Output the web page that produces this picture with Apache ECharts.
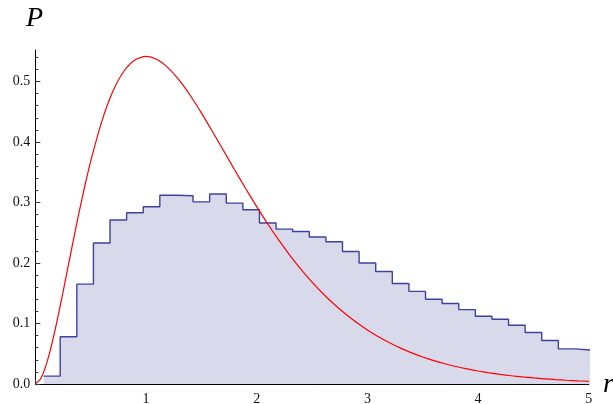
<!DOCTYPE html>
<html>
<head>
<meta charset="utf-8">
<title>Radial probability P(r)</title>
<script src="https://cdn.jsdelivr.net/npm/echarts@6/dist/echarts.min.js"></script>
<style>
  html, body { margin: 0; padding: 0; background: #ffffff; }
  #chart { width: 613px; height: 404px; }
</style>
</head>
<body>
<div id="chart"></div>
<script>
// Histogram: first bin edge, bin width and bin heights
const binStart = 0.075;
const binWidth = 0.15;
const binHeights = [
  0.013, 0.078, 0.165, 0.233, 0.271, 0.283, 0.293, 0.312, 0.311, 0.301,
  0.314, 0.299, 0.288, 0.266, 0.256, 0.252, 0.243, 0.235, 0.219, 0.200,
  0.186, 0.166, 0.153, 0.140, 0.133, 0.123, 0.112, 0.107, 0.097, 0.085,
  0.072, 0.058, 0.056
];

// Smooth curve P(r); denser samples near the origin where it bends fastest
const curveR = [
  0.0, 0.05, 0.1, 0.15, 0.2, 0.25, 0.3, 0.35, 0.4, 0.45, 0.5, 0.6, 0.7, 0.8, 0.9,
  1.0, 1.1, 1.2, 1.3, 1.4, 1.5, 1.6, 1.7, 1.8, 1.9,
  2.0, 2.1, 2.2, 2.3, 2.4, 2.5, 2.6, 2.7, 2.8, 2.9,
  3.0, 3.1, 3.2, 3.3, 3.4, 3.5, 3.6, 3.7, 3.8, 3.9,
  4.0, 4.1, 4.2, 4.3, 4.4, 4.5, 4.6, 4.7, 4.8, 4.9, 5.0
];
const curveP = [
  0.0000, 0.0091, 0.0328, 0.0667, 0.1073, 0.1516, 0.1976, 0.2433, 0.2876, 0.3293,
  0.3679, 0.4337, 0.4833, 0.5169, 0.5356,
  0.5413, 0.5363, 0.5225, 0.5021, 0.4768, 0.4481, 0.4174, 0.3858, 0.3541, 0.3230,
  0.2931, 0.2645, 0.2377, 0.2127, 0.1896, 0.1685, 0.1492, 0.1317, 0.1160, 0.1019,
  0.0892, 0.0780, 0.0681, 0.0593, 0.0515, 0.0447, 0.0387, 0.0335, 0.0289, 0.0249,
  0.0215, 0.0185, 0.0159, 0.0136, 0.0117, 0.0100, 0.0086, 0.0073, 0.0062, 0.0053, 0.0045
];

// Axis ranges and tick spacing
const xMax = 5;
const yMax = 0.552;
const yMinorTop = 0.54;
const yMajorTop = 0.5;

const serif = '"Liberation Serif", "DejaVu Serif", serif';

// Step points: left edge of every bin, plus the right edge of the last one
const histPoints = binHeights.map((h, i) => [binStart + i * binWidth, h]);
histPoints.push([binStart + binHeights.length * binWidth, binHeights[binHeights.length - 1]]);

const curvePoints = curveR.map((r, i) => [r, curveP[i]]);

// Plot box geometry (pixels)
const plotLeft = 35.3;
const plotRight = 24.2;
const plotBottom = 20;
const plotTop = 50;
const pxPerUnit = (404 - plotBottom - plotTop) / yMax;
const topFor = v => 404 - plotBottom - v * pxPerUnit;

const chart = echarts.init(document.getElementById('chart'), null, { renderer: 'canvas' });

const hiddenX = (gi) => ({
  type: 'value', gridIndex: gi, min: 0, max: xMax, show: false
});

const gridBox = (top) => ({
  left: plotLeft, right: plotRight, top: top, bottom: plotBottom,
  containLabel: false, outerBoundsMode: 'none'
});

chart.setOption({
  animation: false,
  backgroundColor: '#ffffff',
  grid: [
    gridBox(plotTop),
    gridBox(topFor(yMinorTop)),
    gridBox(topFor(yMajorTop))
  ],
  xAxis: [
    {
      type: 'value', gridIndex: 0, min: 0, max: xMax, interval: 1,
      axisLine: { show: true, lineStyle: { color: '#000000', width: 1 } },
      axisTick: { show: true, inside: true, length: 5, lineStyle: { color: '#333333' } },
      minorTick: { show: true, splitNumber: 5, length: 3, lineStyle: { color: '#333333' } },
      splitLine: { show: false },
      axisLabel: {
        margin: 8, fontFamily: serif, fontSize: 14, color: '#111111',
        formatter: v => (v === 0 ? '' : String(v))
      }
    },
    hiddenX(1),
    hiddenX(2)
  ],
  yAxis: [
    {
      type: 'value', gridIndex: 0, min: 0, max: yMax, interval: 0.1,
      axisLine: { show: true, lineStyle: { color: '#000000', width: 1 } },
      axisTick: { show: false },
      splitLine: { show: false },
      axisLabel: {
        margin: 5, fontFamily: serif, fontSize: 14, color: '#111111',
        showMaxLabel: false,
        formatter: v => v.toFixed(1)
      }
    },
    {
      // minor ticks every 0.02
      type: 'value', gridIndex: 1, min: 0, max: yMinorTop, interval: 0.02,
      axisLine: { show: false },
      axisTick: { show: true, inside: true, length: 3, lineStyle: { color: '#333333' } },
      axisLabel: { show: false },
      splitLine: { show: false }
    },
    {
      // major ticks every 0.1
      type: 'value', gridIndex: 2, min: 0, max: yMajorTop, interval: 0.1,
      axisLine: { show: false },
      axisTick: { show: true, inside: true, length: 5, lineStyle: { color: '#333333' } },
      axisLabel: { show: false },
      splitLine: { show: false }
    }
  ],
  series: [
    {
      name: 'histogram',
      type: 'line',
      xAxisIndex: 0, yAxisIndex: 0,
      data: histPoints,
      step: 'end',
      clip: false,
      symbol: 'none',
      lineStyle: { color: '#40409f', width: 1.4 },
      areaStyle: { color: '#d9d9ec', opacity: 1 },
      z: 2
    },
    {
      name: 'P(r)',
      type: 'line',
      xAxisIndex: 0, yAxisIndex: 0,
      data: curvePoints,
      smooth: 0.25,
      symbol: 'none',
      lineStyle: { color: '#ff0000', width: 1.2 },
      z: 3
    }
  ],
  graphic: [
    {
      type: 'text', left: 26, top: 5,
      style: { text: 'P', font: 'italic 28px ' + serif, fill: '#000000' }
    },
    {
      type: 'text', left: 603, top: 371,
      style: { text: 'r', font: 'italic 28px ' + serif, fill: '#000000' }
    }
  ]
});
</script>
</body>
</html>
